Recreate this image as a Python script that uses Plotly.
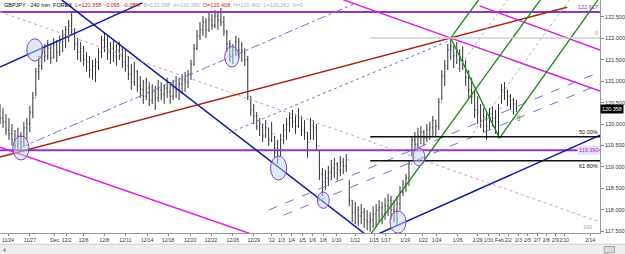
import plotly.graph_objects as go

# ---------------- price data (240-min GBPJPY bars, sampled) ----------------
highs = [
    120.47, 120.37, 120.23, 120.14, 120.00, 119.86, 119.91, 119.81, 120.05, 120.14,
    120.42, 120.75, 121.31, 121.59, 121.82, 121.87, 121.96, 121.87, 122.01, 121.96,
    122.06, 122.20, 122.29, 122.43, 122.62, 122.24, 122.01, 121.92, 121.82, 121.68,
    121.59, 121.50, 121.54, 121.77, 122.06, 122.15, 122.06, 121.92, 121.96, 121.87,
    121.92, 121.82, 121.73, 121.59, 121.40, 121.45, 121.26, 121.12, 121.03, 121.08,
    120.98, 120.93, 120.89, 121.03, 120.98, 120.93, 121.08, 120.98, 121.03, 121.12,
    121.08, 121.17, 121.22, 121.26, 121.50, 121.87, 122.20, 122.38, 122.52, 122.48,
    122.62, 122.57, 122.66, 122.62, 122.71, 122.52, 122.20, 121.96, 121.87, 122.06,
    122.01, 121.92, 121.77, 121.59, 120.65, 120.47, 120.28, 120.14, 120.00, 120.09,
    119.91, 120.05, 119.72, 119.63, 119.77, 120.00, 120.14, 120.28, 120.33, 120.23,
    120.37, 120.19, 120.09, 119.81, 120.14, 120.09, 120.00, 119.39, 118.97, 118.93,
    119.02, 119.16, 119.21, 119.11, 119.25, 119.21, 119.30, 118.69, 118.22, 118.18,
    118.08, 118.13, 118.04, 117.99, 117.94, 118.08, 118.13, 118.22, 118.18, 118.27,
    118.37, 118.32, 118.22, 118.32, 118.55, 118.69, 118.83, 119.16, 119.72, 119.81,
    119.91, 119.95, 119.86, 120.00, 120.05, 120.19, 120.09, 120.61, 121.26, 121.50,
    121.87, 122.01, 121.82, 121.92, 121.73, 121.82, 121.50, 121.26, 121.08, 120.80,
    120.65, 120.47, 120.37, 120.28, 120.37, 120.42, 120.33, 120.47, 120.93, 120.98,
    120.80, 120.70, 120.61, 120.56,
]
lows = [
    120.00, 119.91, 119.74, 119.63, 119.49, 119.39, 119.42, 119.37, 119.49, 119.63,
    119.81, 120.14, 120.65, 121.03, 121.26, 121.45, 121.50, 121.40, 121.54, 121.45,
    121.59, 121.68, 121.77, 121.92, 122.10, 121.73, 121.50, 121.45, 121.36, 121.22,
    121.08, 121.03, 120.98, 121.26, 121.54, 121.68, 121.50, 121.40, 121.45, 121.36,
    121.50, 121.31, 121.22, 121.03, 120.80, 120.89, 120.75, 120.61, 120.47, 120.56,
    120.42, 120.47, 120.33, 120.51, 120.56, 120.47, 120.61, 120.47, 120.56, 120.61,
    120.56, 120.70, 120.75, 120.84, 121.03, 121.36, 121.73, 121.96, 122.06, 122.01,
    122.15, 122.20, 122.24, 122.20, 122.29, 122.06, 121.68, 121.45, 121.40, 121.59,
    121.54, 121.45, 121.36, 120.56, 120.19, 120.00, 119.86, 119.72, 119.58, 119.67,
    119.49, 119.58, 119.21, 119.07, 119.25, 119.53, 119.63, 119.81, 119.91, 119.77,
    119.91, 119.72, 119.63, 119.21, 119.63, 119.63, 119.39, 118.69, 118.32, 118.46,
    118.55, 118.69, 118.74, 118.69, 118.78, 118.83, 118.88, 118.08, 117.71, 117.66,
    117.62, 117.66, 117.57, 117.52, 117.48, 117.57, 117.62, 117.71, 117.66, 117.76,
    117.85, 117.76, 117.71, 117.62, 117.99, 118.32, 118.41, 118.55, 119.25, 119.39,
    119.44, 119.53, 119.49, 119.58, 119.63, 119.72, 119.72, 119.86, 120.56, 120.89,
    121.26, 121.50, 121.31, 121.40, 121.22, 121.26, 120.89, 120.61, 120.47, 120.14,
    120.00, 119.91, 119.81, 119.63, 119.86, 119.95, 119.77, 119.67, 120.47, 120.56,
    120.42, 120.33, 120.23, 120.28,
]
closes = [
    120.14, 120.05, 119.86, 119.77, 119.63, 119.49, 119.72, 119.58, 119.91, 120.00,
    120.28, 120.61, 121.22, 121.36, 121.68, 121.59, 121.77, 121.54, 121.87, 121.68,
    121.92, 122.06, 122.20, 122.29, 122.20, 121.87, 121.68, 121.77, 121.50, 121.45,
    121.26, 121.36, 121.45, 121.68, 121.96, 121.82, 121.68, 121.77, 121.59, 121.73,
    121.59, 121.45, 121.36, 121.17, 120.98, 121.22, 120.89, 120.80, 120.65, 120.84,
    120.56, 120.75, 120.61, 120.80, 120.70, 120.84, 120.75, 120.65, 120.89, 120.80,
    120.93, 121.03, 120.98, 121.17, 121.40, 121.77, 122.06, 122.20, 122.38, 122.20,
    122.43, 122.29, 122.52, 122.43, 122.38, 122.15, 121.87, 121.59, 121.73, 121.92,
    121.73, 121.68, 121.50, 120.65, 120.33, 120.19, 119.95, 120.00, 119.72, 119.91,
    119.63, 119.77, 119.44, 119.39, 119.63, 119.86, 120.00, 120.14, 120.05, 119.95,
    120.14, 119.86, 119.81, 119.58, 119.95, 119.91, 119.49, 118.83, 118.65, 118.74,
    118.88, 118.97, 119.07, 118.93, 119.11, 119.02, 119.16, 118.22, 117.94, 117.99,
    117.85, 117.94, 117.76, 117.71, 117.76, 117.90, 117.99, 118.04, 117.90, 118.08,
    118.22, 117.99, 117.94, 118.13, 118.41, 118.60, 118.74, 119.07, 119.63, 119.53,
    119.72, 119.81, 119.67, 119.86, 119.91, 120.09, 119.95, 120.51, 121.12, 121.36,
    121.73, 121.82, 121.59, 121.73, 121.50, 121.45, 121.08, 120.80, 120.65, 120.33,
    120.28, 120.09, 120.14, 119.95, 120.23, 120.14, 120.05, 120.37, 120.80, 120.75,
    120.65, 120.56, 120.47, 120.36,
]
first_open = 120.30
bar_index = list(range(len(closes)))
opens = [first_open] + closes[:-1]

# x-axis date labels (bar index positions)
tick_labels = ["11/24", "11/27", "Dec", "12/2", "12/6", "12/8", "12/11", "12/14", "12/18",
               "12/20", "12/22", "12/26", "12/29", "'12", "1/3", "1/4", "1/5", "1/6",
               "1/8", "1/10", "1/12", "1/15", "1/17", "1/19", "1/22", "1/24", "1/26",
               "1/29", "1/31", "Feb", "2/2", "2/3", "2/5", "2/7", "2/8", "2/9", "2/10", "2/14"]
tick_index = [2.7, 10.0, 18.3, 22.3, 28.0, 35.0, 42.0, 49.3, 56.3,
              63.7, 70.7, 78.0, 85.0, 91.0, 94.3, 97.7, 101.3, 104.7,
              108.3, 112.7, 119.0, 125.3, 129.3, 135.7, 141.7, 146.3, 153.3,
              160.0, 163.7, 167.3, 170.3, 173.7, 176.7, 180.0, 183.0, 186.0, 189.0, 197.7]
price_ticks = [117.5, 118.0, 118.5, 119.0, 119.5, 120.0, 120.5, 121.0, 121.5, 122.0, 122.5]

last_price = 120.358
x_max = 201.0
y_min, y_max = 117.454, 122.897

# ---------------- analyst drawings: (bar index, price) anchors ----------------
drawings = {
    "purple_top":   [(0, 122.617), (201, 122.617)],
    "purple_mid":   [(0, 119.39), (201, 119.39)],
    "blue_up_left": [(0, 121.33), (47.67, 122.83)],
    "blue_down":    [(20.67, 122.90), (122.67, 117.41)],
    "blue_up_low":  [(126, 117.41), (201, 119.74)],
    "red":          [(0, 119.23), (190, 122.73)],
    "mag_low":      [(0, 119.46), (85, 117.41)],
    "mag_up1":      [(115, 122.90), (201, 120.77)],
    "mag_up2":      [(160.67, 122.76), (201, 121.73)],
    "pink_dot":     [(0, 122.62), (201, 117.71)],
    "dashdot_1":    [(6.67, 119.44), (118.33, 122.80)],
    "dot_2":        [(76.67, 119.79), (151, 121.96)],
    "dash_a":       [(90, 117.99), (201, 121.22)],
    "dash_b":       [(95, 117.87), (201, 120.93)],
    "g_median":     [(124, 117.41), (181, 122.90)],
    "g_tine_b":     [(151, 122.01), (160.33, 122.90)],
    "g_bc":         [(151, 122.01), (167.33, 119.67)],
    "g_tine_c":     [(167.33, 119.67), (200.33, 122.90)],
    "half_1":       [(153.33, 121.28), (170, 122.90)],
    "half_2":       [(157.33, 119.67), (190.67, 122.90)],
    "fib_0":        [(124, 122.01), (201, 122.01)],
    "fib_50":       [(124, 119.70), (201, 119.70)],
    "fib_618":      [(124, 119.14), (201, 119.14)],
}
styles = {
    "purple_top": dict(color="#9435C8", width=2),
    "purple_mid": dict(color="#9435C8", width=2),
    "blue_up_left": dict(color="#0D1BA6", width=1.5),
    "blue_down": dict(color="#0D1BA6", width=1.5),
    "blue_up_low": dict(color="#0D1BA6", width=1.5),
    "red": dict(color="#A8260E", width=1.5),
    "mag_low": dict(color="#E01EDB", width=1.5),
    "mag_up1": dict(color="#E01EDB", width=1.5),
    "mag_up2": dict(color="#E01EDB", width=1.5),
    "pink_dot": dict(color="#D795D4", width=1, dash="dot"),
    "dashdot_1": dict(color="#7474D2", width=1, dash="dashdot"),
    "dot_2": dict(color="#7474D2", width=1, dash="dot"),
    "dash_a": dict(color="#7474D2", width=1, dash="dash"),
    "dash_b": dict(color="#7474D2", width=1, dash="dash"),
    "g_median": dict(color="#178A17", width=1.3),
    "g_tine_b": dict(color="#178A17", width=1.3),
    "g_bc": dict(color="#178A17", width=1.3),
    "g_tine_c": dict(color="#178A17", width=1.3),
    "half_1": dict(color="#A9B8A9", width=1, dash="dot"),
    "half_2": dict(color="#A9B8A9", width=1, dash="dot"),
    "fib_0": dict(color="#CFCFCF", width=1.5),
    "fib_50": dict(color="#111111", width=1.5),
    "fib_618": dict(color="#111111", width=1.5),
}

# circled touch points: (bar index, price, half-width in bars, half-height in price)
circles = [
    (11.67, 121.73, 2.7, 0.26),
    (77.67, 121.57, 2.4, 0.24),
    (7.0, 119.44, 2.7, 0.28),
    (93.33, 118.97, 2.7, 0.28),
    (108.33, 118.22, 2.0, 0.19),
    (133.33, 117.71, 2.7, 0.26),
    (140.33, 119.23, 2.0, 0.21),
]
arrow_point = (174.0, 120.14)

fig = go.Figure()

for name, pts in drawings.items():
    st = styles[name]
    fig.add_trace(go.Scatter(
        x=[p[0] for p in pts], y=[p[1] for p in pts], mode="lines",
        line=dict(color=st["color"], width=st["width"], dash=st.get("dash", "solid")),
        hoverinfo="skip", showlegend=False))

fig.add_trace(go.Ohlc(
    x=bar_index, open=opens, high=highs, low=lows, close=closes,
    increasing=dict(line=dict(color="#1A1A1A", width=0.9)),
    decreasing=dict(line=dict(color="#1A1A1A", width=0.9)),
    tickwidth=0.25, showlegend=False, hoverinfo="skip"))

shapes = []
for cx, cy, rx, ry in circles:
    shapes.append(dict(type="circle", xref="x", yref="y",
                       x0=cx - rx, x1=cx + rx, y0=cy - ry, y1=cy + ry,
                       line=dict(color="#8A3CCB", width=1),
                       fillcolor="rgba(190,215,240,0.5)", layer="above"))
# scrollbar strip under the axis
shapes.append(dict(type="rect", xref="paper", yref="paper", x0=-0.01, x1=1.05,
                   y0=-0.095, y1=-0.048, fillcolor="#EEEEEE",
                   line=dict(color="#D0D0D0", width=1), layer="below"))
shapes.append(dict(type="rect", xref="paper", yref="paper", x0=1.007, x1=1.024,
                   y0=-0.085, y1=-0.058, fillcolor="#DADADA",
                   line=dict(color="#A0A0A0", width=1)))

annotations = [
    dict(xref="paper", yref="paper", x=0.003, y=0.998, xanchor="left", yanchor="top",
         showarrow=False, font=dict(family="Liberation Sans, Arial", size=5.5, color="#000"),
         text=("GBPJPY - 240 min  FOREX  "
               "<span style='color:#D01010'>L=120.358  -0.095  -0.08%</span>  "
               "<span style='color:#A8B0C8'>B=120.358  A=120.380</span>  "
               "<span style='color:#D01010'>O=120.408</span>  "
               "<span style='color:#A8B0C8'>H=120.461  L=120.262  V=0</span>")),
    dict(x=x_max, y=122.617, xanchor="right", yanchor="bottom", showarrow=False,
         text="122.617", font=dict(family="Liberation Sans, Arial", size=5.5, color="#9435C8")),
    dict(x=x_max, y=119.39, xanchor="right", yanchor="middle", showarrow=False,
         text="119.390", bgcolor="#EBDDF5",
         font=dict(family="Liberation Sans, Arial", size=5.5, color="#9435C8")),
    dict(x=x_max, y=119.70, xanchor="right", yanchor="bottom", showarrow=False,
         text="50.00%", font=dict(family="Liberation Sans, Arial", size=5.5, color="#111")),
    dict(x=x_max, y=119.14, xanchor="right", yanchor="top", showarrow=False,
         text="61.80%", font=dict(family="Liberation Sans, Arial", size=5.5, color="#111")),
    dict(x=x_max, y=122.01, xanchor="right", yanchor="bottom", showarrow=False,
         text="0", font=dict(family="Liberation Sans, Arial", size=5.5, color="#999")),
    dict(x=x_max - 2, y=117.47, xanchor="right", yanchor="bottom", showarrow=False,
         text="100", font=dict(family="Liberation Sans, Arial", size=5.5, color="#999")),
    dict(x=arrow_point[0], y=arrow_point[1], showarrow=False, text="⇧",
         font=dict(family="DejaVu Sans", size=9, color="#2A9A2A")),
    dict(xref="paper", x=1.0, y=last_price, xanchor="left", yanchor="middle",
         showarrow=False, text="120.358", bgcolor="#000000",
         font=dict(family="Liberation Sans, Arial", size=5.5, color="#FFFFFF")),
    dict(xref="paper", yref="paper", x=0.002, y=-0.072, xanchor="left", yanchor="middle",
         showarrow=False, text="4", font=dict(family="Liberation Sans, Arial", size=5, color="#555")),
]

fig.update_layout(
    width=625, height=254,
    margin=dict(l=0, r=22, t=0, b=21),
    paper_bgcolor="white", plot_bgcolor="white",
    showlegend=False,
    shapes=shapes, annotations=annotations,
    xaxis=dict(range=[0, x_max], rangeslider=dict(visible=False),
               tickvals=tick_index, ticktext=tick_labels, tickangle=0,
               tickfont=dict(family="Liberation Sans, Arial", size=5, color="#333"),
               ticks="outside", ticklen=2, tickcolor="#888",
               showline=True, linecolor="#9A9A9A", linewidth=1,
               showgrid=False, zeroline=False, fixedrange=True),
    yaxis=dict(range=[y_min, y_max], side="right", tickvals=price_ticks,
               tickformat=".3f", tickfont=dict(family="Liberation Sans, Arial", size=5.5, color="#333"),
               ticks="outside", ticklen=3, tickcolor="#888",
               showline=True, linecolor="#9A9A9A", linewidth=1, mirror=False,
               showgrid=False, zeroline=False, fixedrange=True),
)

fig.write_html("out.html")
